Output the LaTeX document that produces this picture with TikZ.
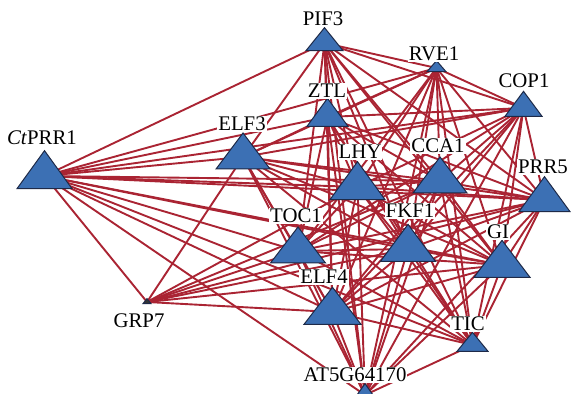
\documentclass[tikz,border=0pt]{standalone}
\usepackage{fontspec}
\setmainfont{Liberation Serif}
\usetikzlibrary{calc}
\definecolor{linkRed}{HTML}{AA2433}
\definecolor{geneBlue}{HTML}{3C70B4}
\definecolor{geneEdge}{HTML}{1E2A48}

% triangle round a named centre: name, half width, height
\newcommand{\gene}[4][]{%
  \filldraw[tri,#1] ($(#2)+(0,{-2*#4/3})$) -- ($(#2)+({-#3},{#4/3})$) -- ($(#2)+({#3},{#4/3})$) -- cycle;}

\begin{document}
\begin{tikzpicture}[x=0.5pt, y=-0.5pt,
    link/.style={draw=linkRed, line width=0.95pt},
    tri/.style={fill=geneBlue, draw=geneEdge, line width=0.5pt},
    lbl/.style={fill=white, inner sep=0.5pt, font=\fontsize{10.4}{12}\selectfont},
]
    \useasboundingbox (0,0) rectangle (571,394);
    \clip (0,0) rectangle (571,394);

    % gene centres
    \coordinate (ctprr) at (44.5,176);
    \coordinate (elf3) at (243,157);
    \coordinate (pif) at (324.5,43);
    \coordinate (rve) at (436.5,68);
    \coordinate (cop) at (523.5,108);
    \coordinate (ztl) at (327.5,117);
    \coordinate (lhy) at (357.5,187);
    \coordinate (cca) at (440,181);
    \coordinate (prr) at (544.5,200);
    \coordinate (toc) at (298,251);
    \coordinate (fkf) at (408,249);
    \coordinate (gi) at (502,265);
    \coordinate (elf4) at (332.5,312);
    \coordinate (tic) at (472.5,345);
    \coordinate (at5g) at (365,395);
    \coordinate (grp) at (147,302);

    % interactions
    \foreach \b in {pif,rve,cop,ztl,elf3,lhy,cca,prr,toc,fkf,gi,elf4,tic,at5g,grp}
        \draw[link] (ctprr) -- (\b);
    \foreach \b in {elf3,toc,lhy,cca,fkf,gi,elf4,prr}
        \draw[link] (grp) -- (\b);
    \foreach \b in {rve,cop,ztl,elf3,lhy,cca,prr,toc,fkf,gi,elf4,tic,at5g}
        \draw[link] (pif) -- (\b);
    \foreach \b in {cop,ztl,elf3,lhy,cca,prr,toc,fkf,gi,elf4,tic,at5g}
        \draw[link] (rve) -- (\b);
    \foreach \b in {ztl,elf3,lhy,cca,prr,toc,fkf,gi,elf4,tic,at5g}
        \draw[link] (cop) -- (\b);
    \foreach \b in {elf3,lhy,cca,prr,toc,fkf,gi,elf4,tic,at5g}
        \draw[link] (ztl) -- (\b);
    \foreach \b in {lhy,cca,prr,toc,fkf,gi,elf4,tic,at5g}
        \draw[link] (elf3) -- (\b);
    \foreach \b in {cca,prr,toc,fkf,gi,elf4,tic,at5g}
        \draw[link] (lhy) -- (\b);
    \foreach \b in {prr,toc,fkf,gi,elf4,tic,at5g}
        \draw[link] (cca) -- (\b);
    \foreach \b in {toc,fkf,gi,elf4,tic,at5g}
        \draw[link] (prr) -- (\b);
    \foreach \b in {fkf,gi,elf4,tic,at5g}
        \draw[link] (toc) -- (\b);
    \foreach \b in {gi,elf4,tic,at5g}
        \draw[link] (fkf) -- (\b);
    \foreach \b in {elf4,tic,at5g}
        \draw[link] (gi) -- (\b);
    \foreach \b in {tic,at5g}
        \draw[link] (elf4) -- (\b);
    \draw[link] (tic) -- (at5g);

    % genes
    \gene{ctprr}{27.5}{38}
    \gene{elf3}{27}{36}
    \gene{pif}{18.5}{23}
    \gene{rve}{9.5}{11}
    \gene{cop}{18.5}{25}
    \gene{ztl}{20.5}{28}
    \gene{lhy}{27.5}{38}
    \gene{cca}{27}{36}
    \gene{prr}{25.5}{35}
    \gene{toc}{27.5}{36}
    \gene{fkf}{27.5}{37}
    \gene{gi}{28}{37}
    \gene{elf4}{28.5}{37}
    \gene{tic}{15.5}{19}
    \gene{at5g}{12}{17}
    \gene[fill=black!80]{grp}{4}{5}

    % names
    \node[lbl] (ctprrL) at (42,138) {\textit{Ct}PRR1};
    \node[lbl] (elf3L) at (242,124) {ELF3};
    \node[lbl] (pifL) at (323,19) {PIF3};
    \node[lbl] (rveL) at (434,54) {RVE1};
    \node[lbl] (copL) at (524,81) {COP1};
    \node[lbl] (ztlL) at (327,91) {ZTL};
    \node[lbl] (lhyL) at (360,152) {LHY};
    \node[lbl] (ccaL) at (438,146) {CCA1};
    \node[lbl] (prrL) at (543,167) {PRR5};
    \node[lbl] (tocL) at (296,216) {TOC1};
    \node[lbl] (fkfL) at (410,211) {FKF1};
    \node[lbl] (giL) at (498,232) {GI};
    \node[lbl] (elf4L) at (324,277) {ELF4};
    \node[lbl] (ticL) at (468,324) {TIC};
    \node[lbl] (at5gL) at (355,375) {AT5G64170};
    \node[lbl] (grpL) at (139,321) {GRP7};
\end{tikzpicture}
\end{document}
